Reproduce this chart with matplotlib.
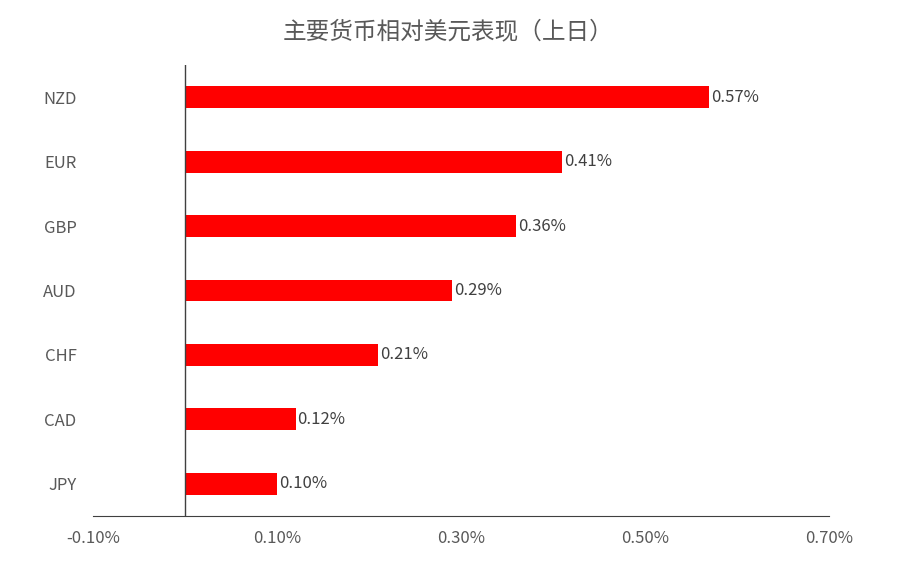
import matplotlib
matplotlib.use("Agg")
import matplotlib.pyplot as plt

plt.rcParams['font.family'] = ['Noto Sans CJK SC', 'DejaVu Sans']

currencies = ["NZD", "EUR", "GBP", "AUD", "CHF", "CAD", "JPY"]
values = [0.57, 0.41, 0.36, 0.29, 0.21, 0.12, 0.10]
ticks = [-0.10, 0.10, 0.30, 0.50, 0.70]
title = "主要货币相对美元表现（上日）"

grey = "#595959"
fig = plt.figure(figsize=(8.97, 5.77), dpi=100)
ax = fig.add_axes([0.104, 0.106, 0.82, 0.781])

pos = list(range(len(currencies)))[::-1]
ax.barh(pos, values, height=0.34, color="#ff0000")
for p, v in zip(pos, values):
    ax.text(v + 0.002, p, f"{v:.2f}%", va="center", ha="left", fontsize=12, color="#404040")

ax.set_xlim(-0.10, 0.70)
ax.set_ylim(-0.5, len(currencies) - 0.5)
ax.set_xticks(ticks)
ax.set_xticklabels([f"{t:.2f}%" for t in ticks], fontsize=12, color=grey)
ax.set_yticks(pos)
ax.set_yticklabels(currencies, fontsize=12, color=grey)
ax.tick_params(axis="both", length=0)
ax.tick_params(axis="y", pad=12)
ax.tick_params(axis="x", pad=10)
for s in ["top", "right", "left"]:
    ax.spines[s].set_visible(False)
ax.spines["bottom"].set_color("#404040")
ax.axvline(0, color="#404040", lw=1)

fig.suptitle(title, y=0.965, fontsize=17, color=grey)
fig.savefig("out.png")
